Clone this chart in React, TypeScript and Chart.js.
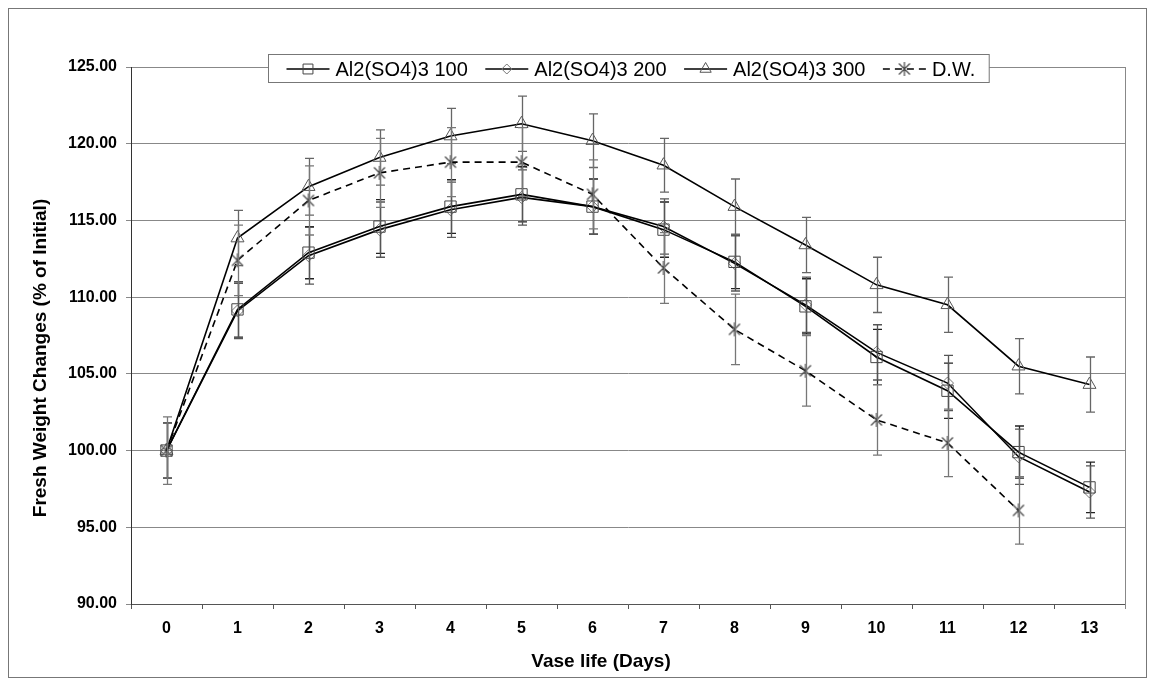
import React, { useEffect, useRef } from 'react';
import { Chart, registerables } from 'chart.js';
import { drawPoint } from 'chart.js/helpers';

Chart.register(...registerables);

const days = ['0', '1', '2', '3', '4', '5', '6', '7', '8', '9', '10', '11', '12', '13'];
const yTicks = [90, 95, 100, 105, 110, 115, 120, 125];

const al100 = [100, 109.2, 112.9, 114.6, 115.9, 116.7, 115.9, 114.4, 112.3, 109.4, 106.1, 103.9, 99.9, 97.6];
const al200 = [100, 109.1, 112.7, 114.4, 115.7, 116.5, 115.9, 114.6, 112.2, 109.5, 106.4, 104.4, 99.6, 97.3];
const al300 = [100, 113.85, 117.2, 119.1, 120.5, 121.3, 120.2, 118.6, 115.9, 113.4, 110.8, 109.5, 105.5, 104.3];
const dw = [100, 112.4, 116.3, 118.1, 118.8, 118.8, 116.7, 111.9, 107.9, 105.2, 102.0, 100.5, 96.1, null];

const al100Err = [1.8, 1.8, 1.7, 1.75, 1.75, 1.8, 1.8, 1.8, 1.75, 1.8, 1.8, 1.8, 1.7, 1.65];
const al200Err = [1.8, 1.8, 1.85, 1.8, 1.8, 1.8, 1.8, 1.8, 1.8, 1.8, 1.8, 1.8, 1.8, 1.7];
const al300Err = [1.8, 1.8, 1.85, 1.8, 1.8, 1.8, 1.75, 1.75, 1.8, 1.8, 1.8, 1.8, 1.8, 1.8];
const dwErr = [2.2, 2.3, 2.25, 2.25, 2.25, 2.25, 2.25, 2.3, 2.3, 2.3, 2.3, 2.2, 2.2, null];

const seriesNames = ['Al2(SO4)3 100', 'Al2(SO4)3 200', 'Al2(SO4)3 300', 'D.W.'];
const xTitle = 'Vase life (Days)';
const yTitle = 'Fresh Weight Changes (% of Initial)';
const errorSets = [al100Err, al200Err, al300Err, dwErr];
const errorColors = ['#222', '#555', '#666', '#777'];

const FONT = "'Liberation Sans', Arial, sans-serif";

function makeStar(color: string) {
  const c = document.createElement('canvas');
  c.width = 16;
  c.height = 16;
  const g = c.getContext('2d')!;
  g.strokeStyle = color;
  g.lineWidth = 1.2;
  g.beginPath();
  g.moveTo(2.5, 2.5);
  g.lineTo(13.5, 13.5);
  g.moveTo(13.5, 2.5);
  g.lineTo(2.5, 13.5);
  g.moveTo(8, 1);
  g.lineTo(8, 15);
  g.stroke();
  return c;
}

const errorBarPlugin = {
  id: 'errorBars',
  afterDatasetsDraw(chart: any) {
    const ctx = chart.ctx;
    const ys = chart.scales.y;
    chart.data.datasets.forEach((ds: any, i: number) => {
      const meta = chart.getDatasetMeta(i);
      const errs = errorSets[i];
      ctx.save();
      ctx.strokeStyle = errorColors[i];
      ctx.lineWidth = 1.3;
      meta.data.forEach((pt: any, j: number) => {
        const v = ds.data[j];
        const e = errs[j];
        if (v == null || e == null) return;
        const x = Math.round(pt.x) + 0.5;
        const t = ys.getPixelForValue(v + e);
        const b = ys.getPixelForValue(v - e);
        ctx.beginPath();
        ctx.moveTo(x, t);
        ctx.lineTo(x, b);
        ctx.moveTo(x - 4.5, t);
        ctx.lineTo(x + 4.5, t);
        ctx.moveTo(x - 4.5, b);
        ctx.lineTo(x + 4.5, b);
        ctx.stroke();
      });
      ctx.restore();
    });
  },
};

const framePlugin = {
  id: 'frame',
  beforeDatasetsDraw(chart: any) {
    const { ctx, chartArea } = chart;
    ctx.save();
    ctx.strokeStyle = '#888';
    ctx.lineWidth = 1;
    ctx.beginPath();
    ctx.moveTo(Math.round(chartArea.right) + 0.5, chartArea.top);
    ctx.lineTo(Math.round(chartArea.right) + 0.5, chartArea.bottom + 5);
    ctx.stroke();
    ctx.restore();
  },
  afterDraw(chart: any) {
    const { ctx, width, height } = chart;
    ctx.save();
    ctx.strokeStyle = '#777';
    ctx.lineWidth = 1;
    ctx.strokeRect(0.5, 0.5, width - 1, height - 1);
    // axis titles
    ctx.fillStyle = '#000';
    ctx.font = `bold 19px ${FONT}`;
    ctx.textAlign = 'center';
    ctx.textBaseline = 'middle';
    ctx.fillText(xTitle, 593, 653.5);
    ctx.translate(32.5, 350);
    ctx.rotate(-Math.PI / 2);
    ctx.fillText(yTitle, 0, 0);
    ctx.restore();
  },
};

const legendPlugin = {
  id: 'boxLegend',
  afterDraw(chart: any) {
    const { ctx, chartArea } = chart;
    ctx.save();
    ctx.font = `20px ${FONT}`;
    const lineLen = 43;
    const gapText = 6;
    const gapItem = 17.5;
    const padL = 18;
    const padR = 14;
    const widths = seriesNames.map((n) => ctx.measureText(n).width);
    let total = padL + padR;
    widths.forEach((w, i) => {
      total += lineLen + gapText + w + (i < widths.length - 1 ? gapItem : 0);
    });
    const cx = (chartArea.left + chartArea.right) / 2;
    const left = Math.round(cx - total / 2) + 0.5;
    const top = 46.5;
    const h = 28;
    ctx.fillStyle = '#fff';
    ctx.fillRect(left, top, total, h);
    ctx.strokeStyle = '#777';
    ctx.lineWidth = 1;
    ctx.strokeRect(left, top, total, h);
    const cy = top + h / 2 + 0.5;
    let x = left + padL;
    chart.data.datasets.forEach((ds: any, i: number) => {
      ctx.save();
      ctx.strokeStyle = '#000';
      ctx.lineWidth = 1.5;
      ctx.setLineDash(ds.borderDash || []);
      ctx.beginPath();
      ctx.moveTo(x, cy);
      ctx.lineTo(x + lineLen, cy);
      ctx.stroke();
      ctx.restore();
      ctx.save();
      ctx.strokeStyle = ds.pointBorderColor;
      ctx.fillStyle = 'rgba(0,0,0,0)';
      ctx.lineWidth = 1;
      drawPoint(ctx, { pointStyle: ds.pointStyle, radius: ds.legendRadius, rotation: 0, borderWidth: 1 } as any, x + lineLen / 2, cy);
      ctx.restore();
      ctx.fillStyle = '#000';
      ctx.textBaseline = 'middle';
      ctx.textAlign = 'left';
      ctx.fillText(seriesNames[i], x + lineLen + gapText, cy + 1);
      x += lineLen + gapText + widths[i] + gapItem;
    });
    ctx.restore();
  },
};

export default function App() {
  const ref = useRef<HTMLCanvasElement | null>(null);

  useEffect(() => {
    if (!ref.current) return;
    const star = makeStar('#444');
    const chart = new Chart(ref.current, {
      type: 'line',
      data: {
        labels: days,
        datasets: [
          {
            label: seriesNames[0],
            data: al100,
            borderColor: '#000',
            borderWidth: 1.6,
            pointStyle: 'rect',
            pointRadius: 8,
            legendRadius: 7,
            pointBorderColor: '#444',
            pointBackgroundColor: 'rgba(0,0,0,0)',
            pointBorderWidth: 1,
            tension: 0,
          } as any,
          {
            label: seriesNames[1],
            data: al200,
            borderColor: '#000',
            borderWidth: 1.6,
            pointStyle: 'rectRot',
            pointRadius: 6,
            legendRadius: 5,
            pointBorderColor: '#777',
            pointBackgroundColor: 'rgba(0,0,0,0)',
            pointBorderWidth: 1,
            tension: 0,
          } as any,
          {
            label: seriesNames[2],
            data: al300,
            borderColor: '#000',
            borderWidth: 1.6,
            pointStyle: 'triangle',
            pointRadius: 7.5,
            legendRadius: 6.5,
            pointBorderColor: '#555',
            pointBackgroundColor: 'rgba(0,0,0,0)',
            pointBorderWidth: 1,
            tension: 0,
          } as any,
          {
            label: seriesNames[3],
            data: dw,
            borderColor: '#000',
            borderWidth: 1.6,
            borderDash: [7, 5],
            pointStyle: star,
            pointRadius: 7,
            legendRadius: 7,
            pointBorderColor: '#444',
            pointBackgroundColor: 'rgba(0,0,0,0)',
            pointBorderWidth: 1,
            tension: 0,
            spanGaps: false,
          } as any,
        ],
      },
      options: {
        animation: false,
        responsive: false,
        maintainAspectRatio: false,
        layout: { padding: { top: 59, right: 22, left: 0, bottom: 0 } },
        plugins: {
          legend: { display: false },
          tooltip: { enabled: false },
        },
        scales: {
          x: {
            type: 'category',
            offset: true,
            grid: {
              offset: true,
              drawOnChartArea: false,
              drawTicks: true,
              tickLength: 5,
              color: '#555',
            },
            border: { color: '#555', width: 1 },
            ticks: {
              color: '#000',
              padding: 10,
              maxRotation: 0,
              autoSkip: false,
              font: { family: FONT, size: 16, weight: 'bold' },
            },
            afterFit: (s: any) => {
              s.height = 74;
            },
          },
          y: {
            min: yTicks[0],
            max: yTicks[yTicks.length - 1],
            afterBuildTicks: (s: any) => {
              s.ticks = yTicks.map((v) => ({ value: v }));
            },
            grid: {
              color: '#888',
              lineWidth: 1,
              tickLength: 5,
            },
            border: { color: '#333', width: 1 },
            ticks: {
              color: '#000',
              padding: 9,
              callback: (v: any) => Number(v).toFixed(2),
              font: { family: FONT, size: 16, weight: 'bold' },
            },
            afterFit: (s: any) => {
              s.width = 123;
            },
          },
        },
      } as any,
      plugins: [framePlugin, errorBarPlugin, legendPlugin],
    });
    return () => chart.destroy();
  }, []);

  return (
    <div style={{ width: 1139, height: 670 }}>
      <canvas ref={ref} width={1139} height={670} style={{ display: 'block', width: 1139, height: 670 }} />
    </div>
  );
}
